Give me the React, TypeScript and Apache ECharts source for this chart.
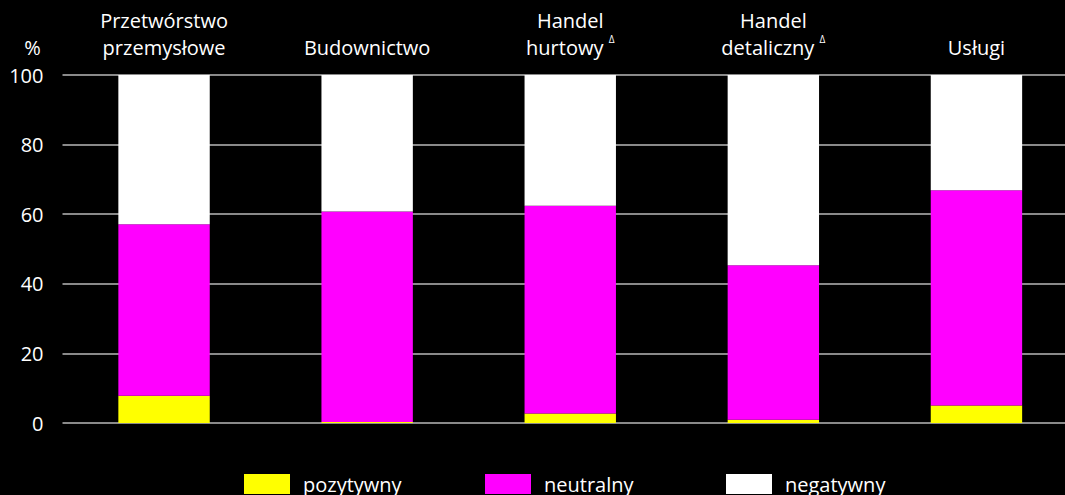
import React, { useEffect, useRef } from "react";
import * as echarts from "echarts";

const categories = [
  "Przetwórstwo\nprzemysłowe",
  "Budownictwo",
  "Handel\nhurtowy {sup|Δ}",
  "Handel\ndetaliczny {sup|Δ}",
  "Usługi",
];
const seriesNames = ["pozytywny", "neutralny", "negatywny"];
const pozytywny = [7.8, 0.3, 2.7, 0.9, 5.0];
const neutralny = [49.3, 60.5, 59.7, 44.4, 61.9];
const negatywny = [42.9, 39.2, 37.6, 54.7, 33.1];
const yTicks = [0, 20, 40, 60, 80, 100];

const FONT = "'Open Sans', 'Noto Sans', sans-serif";
const legendLefts = [244, 485, 726];

export default function App() {
  const ref = useRef<HTMLDivElement>(null);
  useEffect(() => {
    document.body.style.margin = "0";
    document.body.style.background = "#000";
    const chart = echarts.init(ref.current!, null, { renderer: "svg" });
    chart.setOption({
      animation: false,
      backgroundColor: "#000000",
      textStyle: { fontFamily: FONT, color: "#ffffff" },
      grid: { left: 62.5, right: 0, top: 75, bottom: 72 },
      legend: seriesNames.map((n, i) => ({
        top: 474,
        left: legendLefts[i],
        padding: 0,
        itemWidth: 46,
        itemHeight: 20,
        itemGap: 10,
        icon: "rect",
        textStyle: { color: "#ffffff", fontSize: 20, fontFamily: FONT, padding: [4, 0, 0, 8] },
        data: [n],
      })),
      xAxis: {
        type: "category",
        position: "top",
        data: categories,
        axisLine: { show: false },
        axisTick: { show: false },
        axisLabel: {
          color: "#ffffff",
          fontSize: 20,
          lineHeight: 27,
          margin: 14,
          interval: 0,
          fontFamily: FONT,
          rich: {
            sup: { fontSize: 10, verticalAlign: "top", color: "#ffffff", padding: [0, 0, 12, 0] },
          },
        },
      },
      yAxis: {
        type: "value",
        min: 0,
        max: 100,
        interval: 20,
        name: "%",
        nameLocation: "end",
        nameGap: 18,
        nameTextStyle: { color: "#ffffff", fontSize: 20, align: "center", padding: [0, 60, 0, 0], fontFamily: FONT },
        axisLine: { show: false },
        axisTick: { show: false },
        axisLabel: {
          color: "#ffffff",
          fontSize: 20,
          margin: 19,
          fontFamily: FONT,
          formatter: (v: number) => (yTicks.includes(v) ? String(v) : ""),
        },
        splitLine: { lineStyle: { color: "#8a8a8a", width: 2 } },
      },
      series: [
        { name: seriesNames[0], type: "bar", stack: "s", barWidth: "45%", data: pozytywny, itemStyle: { color: "#ffff00" } },
        { name: seriesNames[1], type: "bar", stack: "s", data: neutralny, itemStyle: { color: "#ff00ff" } },
        { name: seriesNames[2], type: "bar", stack: "s", data: negatywny, itemStyle: { color: "#ffffff" } },
      ],
    });
    return () => chart.dispose();
  }, []);
  return (
    <div style={{ width: 1065, height: 495, overflow: "hidden", background: "#000" }}>
      <div ref={ref} style={{ width: 1078, height: 495 }} />
    </div>
  );
}
